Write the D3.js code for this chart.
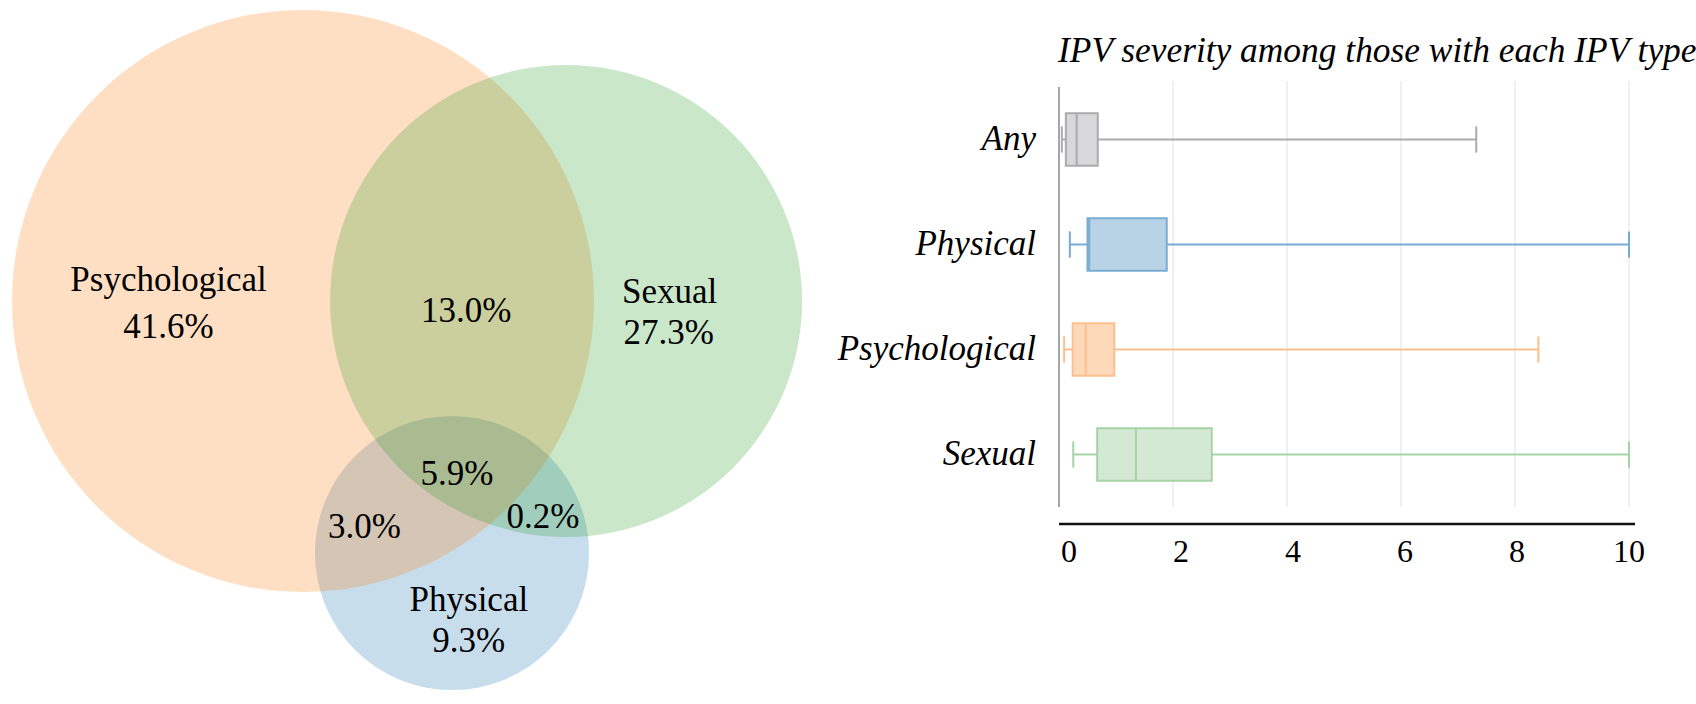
<!DOCTYPE html>
<html><head><meta charset="utf-8">
<script src="https://cdn.jsdelivr.net/npm/d3@7"></script>
</head><body style="margin:0;background:#fff">
<svg id="chart" width="1696" height="704"></svg>
<script>
// ---------- Venn data ----------
const vennSets = ["Psychological", "Sexual", "Physical"];
const vennSetValues = ["41.6%", "27.3%", "9.3%"];
const vennRegions = ["Psychological & Sexual", "All three", "Psychological & Physical", "Sexual & Physical"];
const vennRegionValues = ["13.0%", "5.9%", "3.0%", "0.2%"];

// Venn layout in "venn units" (Psychological radius = 100)
const vennCircleX = [0, 90.4, 51.2];
const vennCircleY = [0, 0, 86.6];
const vennCircleR = [100, 81.1, 47.1];
const vennNameX = [-46.2, 126.0, 57.0];
const vennNameY = [-3.6, 0.8, 106.4];
const vennValueX = [-46.2, 125.7, 56.9];
const vennValueY = [12.6, 14.8, 120.5];
const vennRegionX = [56.1, 52.9, 21.1, 82.5];
const vennRegionY = [7.1, 63.2, 81.3, 78.1];
const vennColors = ["#ff7f0e", "#2ca02c", "#1f77b4"];
const vennDrawOrder = [2, 0, 1];

// ---------- Box plot data ----------
const categories = ["Any", "Physical", "Psychological", "Sexual"];
const whiskerLow = [0.05, 0.19, 0.09, 0.25];
const q1 = [0.12, 0.50, 0.24, 0.67];
const median = [0.31, 0.53, 0.47, 1.35];
const q3 = [0.68, 1.89, 0.97, 2.68];
const whiskerHigh = [7.32, 10, 8.41, 10];
const xTicks = [0, 2, 4, 6, 8, 10];
const gridTicks = [2, 4, 6, 8, 10];
const boxFill = ["#d8d8da", "#b9d3e6", "#fdd8b9", "#d4e9d4"];
const boxStroke = ["#ababab", "#78acd2", "#fcbf8e", "#a6d3a6"];
const title = "IPV severity among those with each IPV type";

const FONT = '"Liberation Serif"';
const svg = d3.select("#chart");

// ---------- Venn ----------
const vx = d3.scaleLinear().domain([0, 100]).range([303, 594]);
const vy = d3.scaleLinear().domain([0, 100]).range([301, 592]);
const vr = d3.scaleLinear().domain([0, 100]).range([0, 291]);

const venn = svg.append("g");
venn.selectAll("circle").data(vennDrawOrder).join("circle")
  .attr("cx", i => vx(vennCircleX[i]))
  .attr("cy", i => vy(vennCircleY[i]))
  .attr("r", i => vr(vennCircleR[i]))
  .attr("fill", i => vennColors[i])
  .attr("fill-opacity", 0.25);

const vennFont = 35;
function vtext(data, xs, ys) {
  data.forEach((d, i) => {
    venn.append("text")
      .attr("x", vx(xs[i]))
      .attr("y", vy(ys[i]))
      .attr("text-anchor", "middle").attr("font-size", vennFont)
      .style("font-family", FONT).text(d);
  });
}
vtext(vennSets, vennNameX, vennNameY);
vtext(vennSetValues, vennValueX, vennValueY);
vtext(vennRegionValues, vennRegionX, vennRegionY);

// ---------- Box plot ----------
const x = d3.scaleLinear().domain([0, 10]).range([1059, 1629]);
const y = d3.scalePoint().domain(categories).range([87, 507]).padding(0.5);
const boxH = y.step() * 0.5;
const plotTop = 87, plotBottom = 507;

const bp = svg.append("g");
bp.selectAll("line.grid").data(gridTicks).join("line").attr("class", "grid")
  .attr("x1", d => x(d)).attr("x2", d => x(d))
  .attr("y1", plotTop - 6).attr("y2", plotBottom)
  .attr("stroke", "#ebebeb").attr("stroke-width", 1.5);
bp.append("line")
  .attr("x1", x(0)).attr("x2", x(0)).attr("y1", plotTop).attr("y2", plotBottom)
  .attr("stroke", "#a6a6a6").attr("stroke-width", 2);

categories.forEach((c, i) => {
  const g = bp.append("g").attr("transform", `translate(0,${y(c)})`);
  const st = boxStroke[i];
  g.append("line").attr("x1", x(whiskerLow[i])).attr("x2", x(q1[i])).attr("y1", 0).attr("y2", 0)
    .attr("stroke", st).attr("stroke-width", 2);
  g.append("line").attr("x1", x(q3[i])).attr("x2", x(whiskerHigh[i])).attr("y1", 0).attr("y2", 0)
    .attr("stroke", st).attr("stroke-width", 2);
  [whiskerLow[i], whiskerHigh[i]].forEach(v => {
    g.append("line").attr("x1", x(v)).attr("x2", x(v)).attr("y1", -boxH / 4).attr("y2", boxH / 4)
      .attr("stroke", st).attr("stroke-width", 2);
  });
  g.append("rect").attr("x", x(q1[i])).attr("width", x(q3[i]) - x(q1[i]))
    .attr("y", -boxH / 2).attr("height", boxH)
    .attr("fill", boxFill[i]).attr("stroke", st).attr("stroke-width", 2);
  g.append("line").attr("x1", x(median[i])).attr("x2", x(median[i]))
    .attr("y1", -boxH / 2).attr("y2", boxH / 2).attr("stroke", st).attr("stroke-width", 2);
  g.append("text").attr("x", x(0) - 23).attr("y", 10.5)
    .attr("text-anchor", "end").attr("font-size", 35)
    .style("font-family", FONT).style("font-style", "italic").text(c);
});

bp.append("text").attr("x", x(0) - 1).attr("y", 62)
  .attr("font-size", 35.4)
  .style("font-family", FONT).style("font-style", "italic").text(title);

const axisX = d3.scaleLinear().domain([0, 10]).range([1068.5, 1628.5]);
const axisY = 524;
bp.append("line").attr("x1", x(0)).attr("x2", x(10) + 6).attr("y1", axisY).attr("y2", axisY)
  .attr("stroke", "#111").attr("stroke-width", 2.5);
const ax = bp.append("g").attr("transform", `translate(0,${axisY})`)
  .call(d3.axisBottom(axisX).tickValues(xTicks).tickSize(0).tickPadding(15));
ax.select(".domain").remove();
ax.attr("font-size", 32);
ax.selectAll("text").style("font-family", FONT).attr("fill", "#000");
</script>
</body></html>
